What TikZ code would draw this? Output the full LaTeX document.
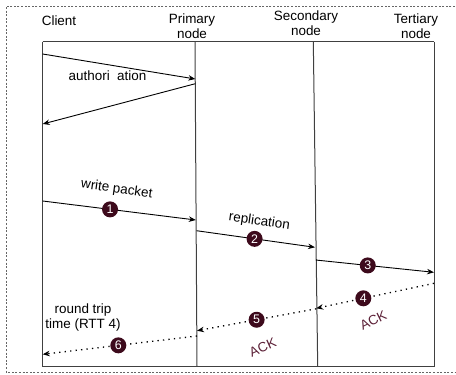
\documentclass[tikz,border=0pt]{standalone}
\usepackage{fontspec}
\setmainfont{Liberation Sans}
\usetikzlibrary{arrows.meta}
\definecolor{badgecol}{HTML}{3D0A1C}
\definecolor{ackcol}{HTML}{5B1F36}
\begin{document}
\begin{tikzpicture}[x=1bp,y=-1bp,
  txt/.style={font=\fontsize{13.5}{15}\selectfont, inner sep=0pt, align=center},
  life/.style={draw=black!75, line width=1bp},
  msg/.style={draw=black, line width=0.9bp, -{Stealth[length=7bp,width=5.5bp]}},
  ackmsg/.style={msg, dash pattern=on 1.3bp off 4.2bp, line width=1.3bp},
  badge/.style={circle, fill=badgecol, text=white, inner sep=0pt, minimum size=16bp,
    font=\fontsize{12.5}{13}\selectfont},
  acktxt/.style={txt, text=ackcol},
  frame/.style={draw=black!60, line width=0.6bp, dash pattern=on 2bp off 1.6bp}]
\useasboundingbox (0,0) rectangle (456,374);
% outer dashed frame
\draw[frame] (455,6) -- (6,6) -- (6,372) -- (455,372);
% lifeline end points
\coordinate (cT) at (42.7,41.7);
\coordinate (cB) at (42.7,366.7);
\coordinate (pT) at (195,41.7);
\coordinate (pB) at (197,366.7);
\coordinate (sT) at (313.3,41.7);
\coordinate (sB) at (317.7,366.7);
\coordinate (tT) at (434,41.7);
\coordinate (tB) at (434,366.7);
\draw[life] (cT) -- (tT);
\draw[life] (cB) -- (tB);
\draw[life] (cT) -- (cB);
\draw[life] (pT) -- (pB);
\draw[life] (sT) -- (sB);
\draw[life] (tT) -- (tB);
% headers
\node[txt] (client) at (59,20.7) {Client};
\node[txt] (primary) at (192,26) {Primary\\node};
\node[txt] (secondary) at (306,23) {Secondary\\node};
\node[txt] (tertiary) at (416,26.5) {Tertiary\\node};
% message end points
\coordinate (a1) at (42.7,54);
\coordinate (a2) at (195.3,79);
\coordinate (a3) at (195.3,83.7);
\coordinate (a4) at (42.7,124);
\coordinate (w1) at (42.7,201);
\coordinate (w2) at (195.8,220);
\coordinate (r1) at (196.5,230.7);
\coordinate (r2) at (315,247.3);
\coordinate (t1) at (315.7,260);
\coordinate (t2) at (434,272.3);
\coordinate (k1) at (434,283.3);
\coordinate (k2) at (316.2,308.3);
\coordinate (k3) at (316.2,308.8);
\coordinate (k4) at (197,330.7);
\coordinate (k5) at (197,336);
\coordinate (k6) at (42.7,354.3);
% messages
\draw[msg] (a1) -- (a2);
\draw[msg] (a3) -- (a4);
\draw[msg] (w1) -- node[badge, pos=0.44] (b1) {1} (w2);
\draw[msg] (r1) -- node[badge, pos=0.49] (b2) {2} (r2);
\draw[msg] (t1) -- node[badge, pos=0.44] (b3) {3} (t2);
\draw[ackmsg] (k1) -- node[badge, pos=0.6] (b4) {4} (k2);
\draw[ackmsg] (k3) -- node[badge, pos=0.5] (b5) {5} (k4);
\draw[ackmsg] (k5) -- node[badge, pos=0.51] (b6) {6} (k6);
% labels
\node[txt] (lauth) at (107.5,76) {authori\ \ ation};
\node[txt, rotate=-8] (lwrite) at (116.7,189.5) {write packet};
\node[txt, rotate=-8] (lrepl) at (259.3,221.7) {replication};
\node[acktxt, rotate=26] (lack4) at (373.3,320) {ACK};
\node[acktxt, rotate=24] (lack5) at (262.7,347.3) {ACK};
\node[txt] (lrtt) at (83,317.5) {round trip\\time (RTT 4)};
\end{tikzpicture}
\end{document}
